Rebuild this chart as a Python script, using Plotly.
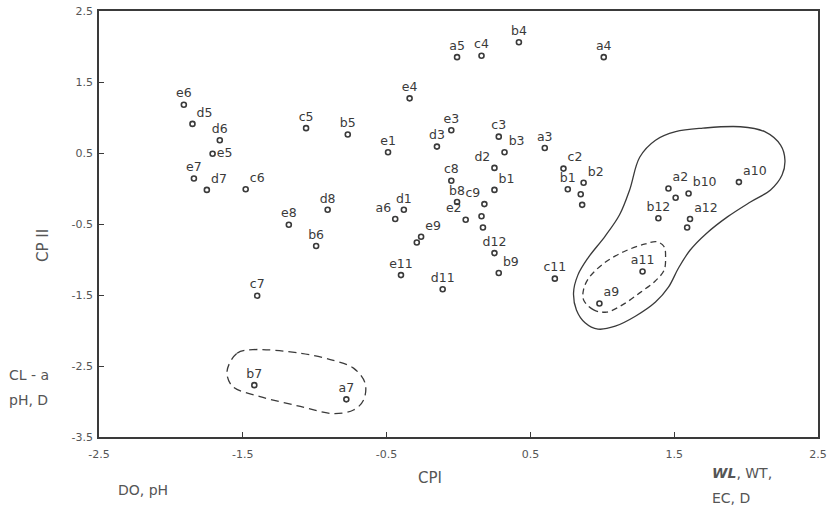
import plotly.graph_objects as go

# ---- data ----
labels = ["e6", "d5", "d6", "e5", "e7", "d7", "c6", "c5", "b5", "e1", "d8", "e8", "b6", "c7",
          "b4", "a5", "c4", "a4", "e4", "e3", "d3", "c3", "b3", "a3", "d2", "c2", "c8", "b1",
          "b1", "b2", "", "", "b8", "c9", "d1", "a6", "e2", "", "", "e9", "", "d12", "b9",
          "e11", "d11", "c11", "a9", "a2", "", "b10", "a10", "b12", "a12", "", "a11", "b7", "a7"]
cpi = [-1.91, -1.85, -1.66, -1.71, -1.84, -1.75, -1.48, -1.06, -0.77, -0.49, -0.91, -1.18, -0.99, -1.40,
       0.42, -0.01, 0.16, 1.01, -0.34, -0.05, -0.15, 0.28, 0.32, 0.60, 0.25, 0.73, -0.05, 0.25,
       0.76, 0.87, 0.85, 0.86, -0.01, 0.18, -0.38, -0.44, 0.05, 0.16, 0.17, -0.26, -0.29, 0.25, 0.28,
       -0.40, -0.11, 0.67, 0.98, 1.46, 1.51, 1.60, 1.95, 1.39, 1.61, 1.59, 1.28, -1.42, -0.78]
cpii = [1.18, 0.91, 0.68, 0.49, 0.14, -0.02, -0.01, 0.85, 0.76, 0.51, -0.30, -0.51, -0.81, -1.51,
        2.06, 1.85, 1.87, 1.85, 1.27, 0.82, 0.59, 0.73, 0.51, 0.57, 0.29, 0.28, 0.11, -0.02,
        -0.01, 0.08, -0.08, -0.23, -0.19, -0.22, -0.30, -0.43, -0.44, -0.39, -0.55, -0.68, -0.76, -0.91, -1.19,
        -1.22, -1.42, -1.27, -1.62, 0.00, -0.13, -0.07, 0.09, -0.42, -0.43, -0.55, -1.17, -2.77, -2.97]

# contour outlines (data units)
solid_x = [1.26, 1.37, 1.51, 1.70, 1.96, 2.13, 2.24, 2.27, 2.25, 2.17, 2.03, 1.87, 1.72, 1.61, 1.53,
           1.46, 1.37, 1.23, 1.09, 0.97, 0.88, 0.82, 0.80, 0.83, 0.90, 1.02, 1.12, 1.19, 1.26]
solid_y = [0.44, 0.68, 0.80, 0.85, 0.87, 0.80, 0.61, 0.40, 0.19, -0.02, -0.19, -0.40, -0.64, -0.87, -1.12,
           -1.39, -1.60, -1.80, -1.94, -1.98, -1.89, -1.71, -1.47, -1.22, -0.98, -0.67, -0.37, -0.02, 0.44]
dash1_x = [1.03, 0.94, 0.87, 0.87, 0.91, 1.02, 1.16, 1.30, 1.38, 1.43, 1.44, 1.43, 1.37, 1.26, 1.14, 1.03]
dash1_y = [-1.74, -1.71, -1.57, -1.42, -1.25, -1.04, -0.88, -0.78, -0.75, -0.82, -0.98, -1.15, -1.30, -1.47, -1.64, -1.74]
dash2_x = [-1.61, -1.54, -1.43, -1.10, -0.87, -0.73, -0.65, -0.66, -0.73, -0.87, -1.10, -1.38, -1.57, -1.61]
dash2_y = [-2.58, -2.32, -2.27, -2.32, -2.42, -2.53, -2.74, -2.98, -3.12, -3.17, -3.07, -2.93, -2.79, -2.58]

tick_vals_x = [-2.5, -1.5, -0.5, 0.5, 1.5, 2.5]
tick_text_x = ["-2.5", "-1.5", "-0.5", "0.5", "1.5", "2.5"]
tick_vals_y = [-3.5, -2.5, -1.5, -0.5, 0.5, 1.5, 2.5]
tick_text_y = ["-3.5", "-2.5", "-1.5", "-0.5", "0.5", "1.5", "2.5"]

# ---- styling ----
right_set = {"d5", "d7", "b3", "c2", "b2", "b9", "a2", "b10", "a10", "a12", "e9", "c6", "a9"}
left_set = {"c9", "a6", "e2", "d2"}
positions = []
for i, lb in enumerate(labels):
    if lb == "e5":
        positions.append("middle right")
    elif lb == "b1" and i == 27:
        positions.append("top right")
    elif lb in right_set:
        positions.append("top right")
    elif lb in left_set:
        positions.append("top left")
    else:
        positions.append("top center")

INK = "#3a3a3a"
FONT = "DejaVu Sans"

fig = go.Figure()
fig.add_trace(go.Scatter(x=solid_x, y=solid_y, mode="lines", line=dict(color=INK, width=1.3, shape="spline", smoothing=1.0),
                         hoverinfo="skip", showlegend=False))
fig.add_trace(go.Scatter(x=dash1_x, y=dash1_y, mode="lines", line=dict(color=INK, width=1.3, dash="6px,4px", shape="spline", smoothing=1.0),
                         hoverinfo="skip", showlegend=False))
fig.add_trace(go.Scatter(x=dash2_x, y=dash2_y, mode="lines", line=dict(color=INK, width=1.3, dash="8px,5px", shape="spline", smoothing=1.0),
                         hoverinfo="skip", showlegend=False))
fig.add_trace(go.Scatter(x=cpi, y=cpii, mode="markers+text", text=labels, textposition=positions,
                         textfont=dict(family=FONT, size=12.5, color=INK),
                         marker=dict(symbol="circle-open", size=5, color=INK, line=dict(width=1.6, color=INK)),
                         showlegend=False))

axis_common = dict(showline=True, linecolor=INK, linewidth=1.5, mirror=True, ticks="inside", ticklen=5,
                   tickcolor=INK, tickwidth=1.3, showgrid=False, zeroline=False, automargin=False,
                   tickfont=dict(family=FONT, size=11, color="#555"))
fig.update_xaxes(range=[-2.5, 2.5], tickvals=tick_vals_x, ticktext=tick_text_x, ticklabelstandoff=6, **axis_common)
fig.update_yaxes(range=[-3.5, 2.5], tickvals=tick_vals_y, ticktext=tick_text_y, ticklabelstandoff=2, **axis_common)

ann_font = dict(family=FONT, size=14, color="#555")
annotations = [
    dict(text="CPI", x=0.4604, y=-0.0962, xanchor="center", yanchor="middle", font=dict(family=FONT, size=15, color="#555")),
    dict(text="CP II", x=-0.0779, y=0.4507, xanchor="center", yanchor="middle", textangle=-90, font=dict(family=FONT, size=15, color="#555")),
    dict(text="DO, pH", x=0.0612, y=-0.1244, xanchor="center", yanchor="middle", font=ann_font),
    dict(text="CL - a", x=-0.128, y=0.1455, xanchor="left", yanchor="middle", font=ann_font),
    dict(text="pH, D", x=-0.128, y=0.0869, xanchor="left", yanchor="middle", font=ann_font),
    dict(text="<b><i>WL</i></b>, WT,", x=0.8498, y=-0.0845, xanchor="left", yanchor="middle", font=ann_font),
    dict(text="EC, D", x=0.8498, y=-0.1432, xanchor="left", yanchor="middle", font=ann_font),
]
for a in annotations:
    a.update(xref="paper", yref="paper", showarrow=False)

fig.update_layout(width=828, height=513, margin=dict(l=99, r=10, t=11, b=76),
                  plot_bgcolor="white", paper_bgcolor="white", annotations=annotations,
                  font=dict(family=FONT, color=INK))

fig.write_html("out.html", config={"displayModeBar": False},
               post_script="document.body.style.margin='0';document.body.style.padding='0';document.body.style.overflow='hidden';")
